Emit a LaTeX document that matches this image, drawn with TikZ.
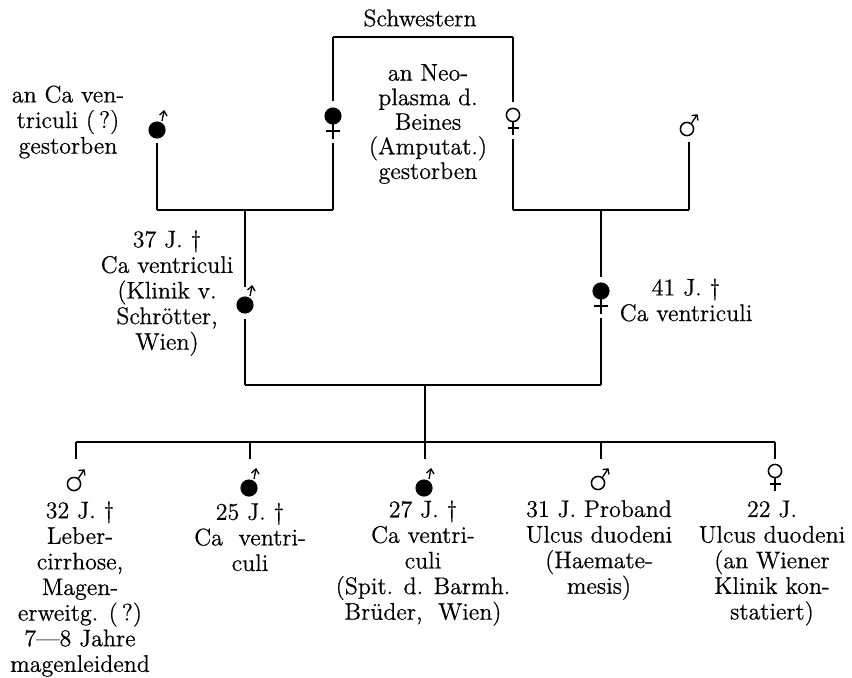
\documentclass[tikz,border=0pt]{standalone}
\usepackage{fontspec}
\setmainfont{Latin Modern Roman}[FakeBold=0.6]
\usetikzlibrary{calc}
\tikzset{
  txt/.style={align=center,inner sep=0pt,font=\fontsize{12}{12.8}\selectfont},
  txtn/.style={align=center,inner sep=0pt,font=\fontsize{12}{12.3}\selectfont},
  aff/.style={circle,fill=black,inner sep=0pt,minimum size=8.6pt},
  unaff/.style={circle,draw=black,line width=0.75pt,inner sep=0pt,minimum size=6.6pt},
  sym/.style={line width=0.65pt},
  vl/.style={line width=0.6pt},
  hl/.style={line width=1pt},
}
% small arrow over an affected (filled) male
\newcommand\mArrowSmall[1]{%
  \draw[sym] ($(#1)+(5,-9)$) -- ($(#1)+(7,-19)$);
  \draw[sym] ($(#1)+(2.5,-15)$) -- ($(#1)+(7,-19)$) -- ($(#1)+(10,-14)$);}
% arrow of an open male sign
\newcommand\mArrowOpen[1]{%
  \draw[sym] ($(#1)+(4,-5)$) -- ($(#1)+(10,-14)$);
  \draw[sym] ($(#1)+(4.5,-13.5)$) -- ($(#1)+(10,-14)$) -- ($(#1)+(11,-8.5)$);}
% cross of a filled female sign
\newcommand\fCrossBig[1]{%
  \draw[sym] ($(#1)+(0,8)$) -- ($(#1)+(0,23)$) coordinate (#1x);
  \draw[sym] ($(#1)+(-7,15)$) -- ($(#1)+(7,15)$);}
% cross of an open female sign
\newcommand\fCrossSmall[1]{%
  \draw[sym] ($(#1)+(0,6.5)$) -- ($(#1)+(0,20)$) coordinate (#1x);
  \draw[sym] ($(#1)+(-5.5,13)$) -- ($(#1)+(5.5,13)$);}
\begin{document}
\begin{tikzpicture}[x=0.5pt,y=-0.5pt]
\useasboundingbox (0,0) rectangle (852,677);

% ---------- generation I ----------
\node[aff] (gf) at (157,130) {};   \mArrowSmall{gf}
\node[aff] (s1) at (333,116) {};   \fCrossBig{s1}
\node[unaff] (s2) at (513,115) {}; \fCrossSmall{s2}
\node[unaff] (gm2) at (687,129) {};\mArrowOpen{gm2}

\node[txt] (schw) at (420,18) {Schwestern};
\node[txt] (tgf) at (68,122) {an Ca ven-\\triculi (\,?)\\gestorben};
\node[txtn] (ts1) at (428,124) {an Neo-\\plasma d.\\Beines\\(Amputat.)\\gestorben};

\coordinate (top) at (423,37);
\draw[hl] (s1 |- top) -- (s2 |- top);
\draw[vl,shorten <=3pt] (s1.north) -- (s1 |- top);
\draw[vl,shorten <=3pt] (s2.north) -- (s2 |- top);

\coordinate (c1) at (245,210);
\coordinate (c2) at (601,210);
\draw[hl] (gf |- c1) -- (s1 |- c1);
\draw[vl,shorten <=2pt] (gf.south) -- (gf |- c1);
\draw[vl,shorten <=2pt] (s1x) -- (s1x |- c1);
\draw[hl] (s2 |- c2) -- ($(gm2 |- c2)+(2,0)$) coordinate (gm2c);
\draw[vl,shorten <=2pt] (s2x) -- (s2x |- c2);
\draw[vl,shorten <=3pt] (gm2.south -| gm2c) -- (gm2c);

% ---------- generation II ----------
\node[aff] (f) at (245,305) {};  \mArrowSmall{f}
\node[aff] (m) at (601,291) {};  \fCrossBig{m}
\node[txt] (tf) at (167,293) {37 J. \textdagger\\Ca ventriculi\\(Klinik v.\\Schrötter,\\Wien)};
\node[txt] (tm) at (686,300) {41 J. \textdagger\\Ca ventriculi};

\draw[vl,shorten >=4.5pt] (c1) -- (f.north);
\draw[vl,shorten >=2.5pt] (c2) -- (m.north);
\coordinate (c3) at (423,385);
\draw[hl] (f |- c3) -- (m |- c3);
\draw[vl,shorten <=2.5pt] (f.south) -- (f |- c3);
\draw[vl,shorten <=2pt] (mx) -- (mx |- c3);

% ---------- generation III ----------
\coordinate (k) at (425,442);
\draw[vl] (c3 -| k) -- (k);
\coordinate (t1) at (76,459);
\coordinate (t2) at (250,459);
\coordinate (t3) at (425,459);
\coordinate (t4) at (601,459);
\coordinate (t5) at (775,459);
\draw[hl] (t1 |- k) -- (t5 |- k);
\foreach \i in {1,...,5} { \draw[vl] (t\i |- k) -- (t\i); }

\node[unaff] (ch1) at (74,484) {}; \mArrowOpen{ch1}
\node[aff] (ch2) at (249,488) {};  \mArrowSmall{ch2}
\node[aff] (ch3) at (424,488) {};  \mArrowSmall{ch3}
\node[unaff] (ch4) at (598,483) {}; \mArrowOpen{ch4}
\node[unaff] (ch5) at (775,471) {}; \fCrossSmall{ch5}

\node[txt] (tc1) at (80,589) {32 J. \textdagger\\Leber-\\cirrhose,\\Magen-\\erweitg. (\,?)\\7—8 Jahre\\magenleidend};
\node[txt] (tc2) at (250,537) {25 J. \textdagger\\Ca\ \ ventri-\\culi};
\node[txt] (tc3) at (423,563) {27 J. \textdagger\\Ca ventri-\\culi\\(Spit. d. Barmh.\\Brüder,\ \ Wien)};
\node[txt] (tc4) at (599,550) {31 J. Proband\\Ulcus duodeni\\(Haemate-\\mesis)};
\node[txt] (tc5) at (772,563) {22 J.\\Ulcus duodeni\\(an Wiener\\Klinik kon-\\statiert)};
\end{tikzpicture}
\end{document}
